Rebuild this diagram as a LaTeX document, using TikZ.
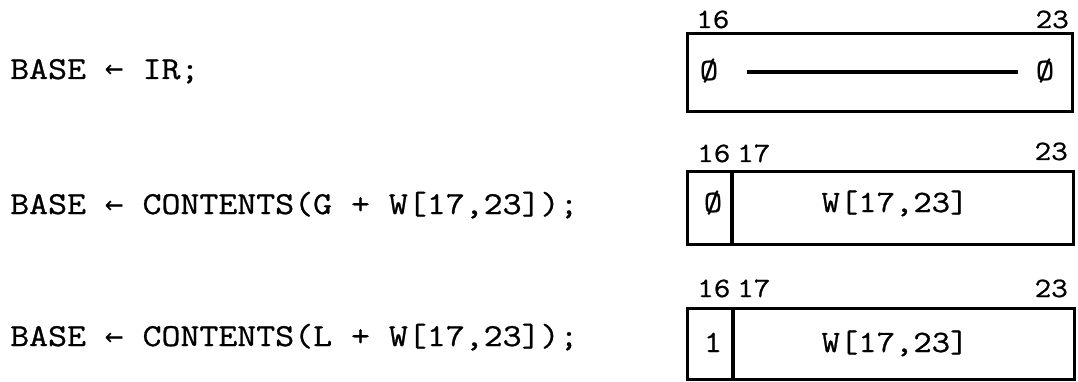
\documentclass[tikz,border=0pt]{standalone}
\usepackage{fontspec}
\setmainfont[FakeStretch=1.15,FakeBold=0.8]{Latin Modern Mono}
\newfontfamily\arrowfont{DejaVu Sans Mono}
\newcommand{\larr}{{\arrowfont\fontsize{31}{36}\selectfont ←}}
\begin{document}
\begin{tikzpicture}[x=1pt,y=-1pt,
  code/.style={inner sep=0pt, anchor=base west, font=\fontsize{32}{38}\selectfont},
  bitnum/.style={inner sep=0pt, font=\fontsize{28}{34}\selectfont},
  field/.style={inner sep=0pt, anchor=base, font=\fontsize{31}{36}\selectfont},
  regbox/.style={draw, line width=3.2pt, anchor=north west, inner sep=0pt},
  divider/.style={line width=3.2pt},
  bar/.style={line width=3.5pt}]
\useasboundingbox (0,0) rectangle (1078,382);

% left code lines
\node[code] (c1) at (10,79) {BASE \larr{} IR;};
\node[code] (c2) at (10,214) {BASE \larr{} CONTENTS(G + W[17,23]);};
\node[code] (c3) at (10,346) {BASE \larr{} CONTENTS(L + W[17,23]);};

% register 1
\node[regbox, minimum width=385pt, minimum height=78pt] (r1) at (686,32) {};
\node[bitnum, anchor=base west] (r1a) at (696,28) {16};
\node[bitnum, anchor=base east] (r1b) at (1069,28) {23};
\node[field] (z1) at (709,80) {Ø};
\node[field] (z2) at (1045,80) {Ø};
\coordinate (l1) at (747,72);
\coordinate (l2) at (1018,72);
\draw[bar] (l1) -- (l2);

% register 2
\node[regbox, minimum width=386pt, minimum height=73pt] (r2) at (686,170) {};
\coordinate (d2t) at (732,170);
\coordinate (d2b) at (732,243);
\draw[divider] (d2t) -- (d2b);
\node[bitnum, anchor=base west] (r2a) at (697,162) {16};
\node[bitnum, anchor=base west] (r2b) at (737,162) {17};
\node[bitnum, anchor=base east] (r2c) at (1068,160) {23};
\node[field] (f2a) at (713,212) {Ø};
\node[field] (f2b) at (895,212) {W[17,23]};

% register 3
\node[regbox, minimum width=387pt, minimum height=71pt] (r3) at (686,307) {};
\coordinate (d3t) at (733,307);
\coordinate (d3b) at (733,378);
\draw[divider] (d3t) -- (d3b);
\node[bitnum, anchor=base west] (r3a) at (697,297) {16};
\node[bitnum, anchor=base west] (r3b) at (737,297) {17};
\node[bitnum, anchor=base east] (r3c) at (1068,297) {23};
\node[field] (f3a) at (713,352) {1};
\node[field] (f3b) at (895,352) {W[17,23]};
\end{tikzpicture}
\end{document}
